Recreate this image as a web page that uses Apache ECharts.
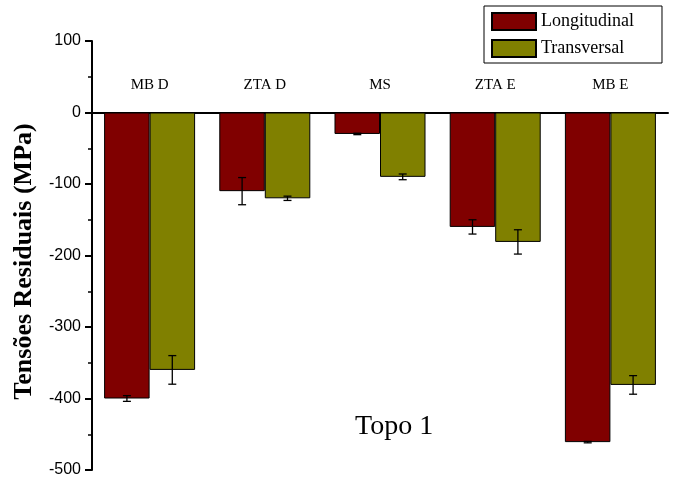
<!DOCTYPE html>
<html><head><meta charset="utf-8">
<script src="https://cdn.jsdelivr.net/npm/echarts@6/dist/echarts.min.js"></script>
<style>html,body{margin:0;padding:0;background:#fff}#c{width:688px;height:492px}</style>
</head><body><div id="c"></div>
<script>
var categories = ['MB D', 'ZTA D', 'MS', 'ZTA E', 'MB E'];
var longValues = [-400, -110, -30, -160, -461];
var longErr = [4, 19, 1, 10, 1];
var transValues = [-360, -120, -90, -181, -381];
var transErr = [20, 3, 4, 17, 13];
var yTicks = { min: -500, max: 100, interval: 100 };

var chart = echarts.init(document.getElementById('c'));
var serif = 'Liberation Serif';
var barFrac = 0.394;

function errSeries(name, vals, errs, side) {
  var data = vals.map(function (v, i) { return [i, v, errs[i]]; });
  return {
    type: 'custom', name: name + ' err', silent: true, z: 10,
    renderItem: function (params, api) {
      var band = api.size([1, 0])[0];
      var c = api.coord([api.value(0), api.value(1)]);
      var x = c[0] + side * band * barFrac / 2;
      var e = api.value(2);
      var top = api.coord([api.value(0), api.value(1) + e])[1];
      var bot = api.coord([api.value(0), api.value(1) - e])[1];
      var w = 4;
      var st = { stroke: '#000', lineWidth: 1.3 };
      return { type: 'group', children: [
        { type: 'line', shape: { x1: x, y1: top, x2: x, y2: bot }, style: st },
        { type: 'line', shape: { x1: x - w, y1: top, x2: x + w, y2: top }, style: st },
        { type: 'line', shape: { x1: x - w, y1: bot, x2: x + w, y2: bot }, style: st }
      ] };
    },
    data: data
  };
}

chart.setOption({
  animation: false,
  grid: { left: 92, right: 20, top: 41, bottom: 22 },
  legend: {
    orient: 'vertical', left: 484, top: 6,
    padding: [6, 28, 5, 7], itemGap: 8,
    itemWidth: 44, itemHeight: 17, icon: 'rect',
    borderColor: '#000', borderWidth: 1,
    textStyle: { fontFamily: serif, fontSize: 18, color: '#000' },
    data: ['Longitudinal', 'Transversal']
  },
  xAxis: {
    type: 'category', data: categories, position: 'top',
    axisLine: { onZero: true, lineStyle: { color: '#000', width: 2 } },
    axisTick: { inside: true, length: 5, lineStyle: { color: '#000', width: 2 } },
    axisLabel: { fontFamily: serif, fontSize: 15, color: '#000', margin: -52 },
    splitLine: { show: false }
  },
  yAxis: {
    type: 'value', min: yTicks.min, max: yTicks.max, interval: yTicks.interval,
    name: 'Tensões Residuais (MPa)', nameLocation: 'middle', nameGap: 55,
    nameTextStyle: { fontFamily: serif, fontWeight: 'bold', fontSize: 26, color: '#000', padding: [0, 12, 0, 0] },
    axisLine: { show: true, onZero: false, lineStyle: { color: '#000', width: 2 } },
    axisTick: { show: true, length: 7, lineStyle: { color: '#000', width: 2 } },
    minorTick: { show: true, splitNumber: 2, length: 4, lineStyle: { color: '#000', width: 1.5 } },
    axisLabel: { fontFamily: 'Liberation Sans', fontSize: 16, color: '#000', margin: 11 },
    splitLine: { show: false }
  },
  graphic: [{
    type: 'text', left: 355, top: 413,
    style: { text: 'Topo 1', font: '28px "Liberation Serif"', fill: '#000' }
  }],
  series: [
    { name: 'Longitudinal', type: 'bar', data: longValues, barGap: '0%', barCategoryGap: '21%',
      itemStyle: { color: '#800000', borderColor: '#000', borderWidth: 1 } },
    { name: 'Transversal', type: 'bar', data: transValues, barGap: '0%', barCategoryGap: '21%',
      itemStyle: { color: '#808000', borderColor: '#000', borderWidth: 1 } },
    errSeries('Longitudinal', longValues, longErr, -1),
    errSeries('Transversal', transValues, transErr, 1)
  ]
});
</script></body></html>
